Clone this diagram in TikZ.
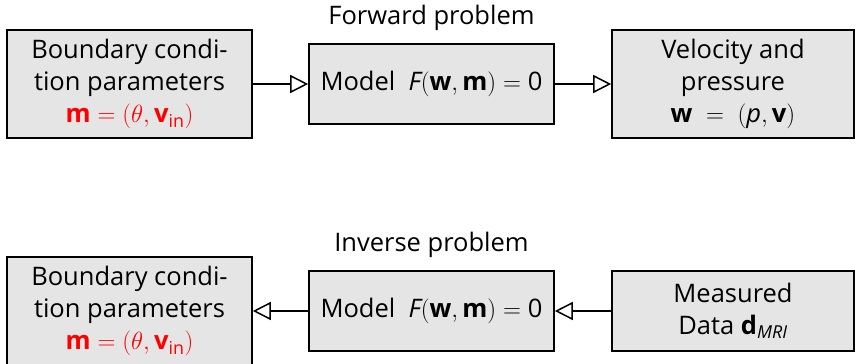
\documentclass[tikz,border=0pt]{standalone}
\usepackage{amsmath}
\usepackage{fontspec}
\setmainfont{Open Sans}
\usetikzlibrary{arrows.meta}
\tikzset{
  >={Triangle[open,length=18pt,width=18pt]},
  box/.style={draw,fill=black!10,line width=1.6pt,align=center,minimum width=245pt,minimum height=#1,inner sep=2pt},
  box/.default=80pt,
  lbl/.style={inner sep=0pt},
  every picture/.style={line width=1.5pt},
}

\begin{document}
\begin{tikzpicture}[x=1pt,y=1pt,font=\fontsize{25.5}{32}\selectfont]
\useasboundingbox (0,0) rectangle (855,364);
% forward problem
\node[box=108pt] (bc) at (129.5,280){Boundary condi-\\tion parameters\\\color{red}$\mathbf{m}=(\theta,\mathbf{v}_{\mathrm{in}})$};
\node[box] (fm) at (431.5,280){Model~ $\mathit{F}(\mathbf{w},\mathbf{m})=\text{0}$};
\node[box=108pt,minimum width=242pt] (vp) at (733,280){Velocity and\\pressure\\$\mathbf{w}~=~(\mathit{p},\mathbf{v})$};
\node[lbl] (fl) at (431.5,346){Forward problem};
\draw[->] (bc)--(fm); \draw[->] (fm)--(vp);
% inverse problem
\node[box=108pt] (bi) at (129.5,53){Boundary condi-\\tion parameters\\\color{red}$\mathbf{m}=(\theta,\mathbf{v}_{\mathrm{in}})$};
\node[box] (im) at (431.5,53){Model~ $\mathit{F}(\mathbf{w},\mathbf{m})=\text{0}$};
\node[box,minimum width=242pt] (md) at (733,53){Measured\\Data $\mathbf{d}_{\mathit{MRI}}$};
\node[lbl] (il) at (431.5,119){Inverse problem};
\draw[->] (im)--(bi); \draw[->] (md)--(im);
\end{tikzpicture}
\end{document}
